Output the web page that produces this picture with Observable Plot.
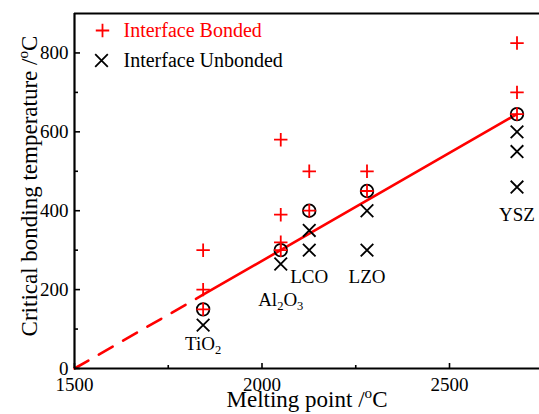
<!DOCTYPE html>
<html>
<head>
<meta charset="utf-8">
<script src="https://cdn.jsdelivr.net/npm/d3@7"></script>
<script src="https://cdn.jsdelivr.net/npm/@observablehq/plot@0.6"></script>
<style>
  html, body { margin: 0; padding: 0; background: #fff; }
  #chart { width: 539px; height: 414px; overflow: hidden; }
  #chart svg, #chart svg text, #chart svg tspan { font-family: 'Liberation Serif', 'Times New Roman', serif !important; }
</style>
</head>
<body>
<div id="chart"></div>
<script>
// ---- data ----
const materials = ["TiO_2", "Al_2O_3", "LCO", "LZO", "YSZ"];
const meltingPoints = [1843, 2050, 2126, 2280, 2680];
const bondedTemps = [[300, 200, 150], [580, 390, 320, 300], [500, 400], [500, 450], [825, 700, 645]];
const unbondedTemps = [[110], [265], [350, 300], [400, 300], [600, 550, 460]];
const criticalTemps = [150, 300, 400, 450, 645];
const labelTemps = [63, 175, 233, 233, 390];
const fitDashedX = [1500, 1843];
const fitDashedY = [0, 187];
const fitSolidX = [1843, 2680];
const fitSolidY = [187, 645];
const xMajorTicks = [1500, 2000, 2500];
const xMinorTicks = [1750, 2250];
const yMajorTicks = [0, 200, 400, 600, 800];
const yMinorTicks = [100, 300, 500, 700];
const legendLabels = ["Interface Bonded", "Interface Unbonded"];
const xTitle = "Melting point /^oC";
const yTitle = "Critical bonding temperature /^oC";

// ---- tables ----
const bonded = meltingPoints.flatMap((m, i) => bondedTemps[i].map(t => ({x: m, y: t})));
const unbonded = meltingPoints.flatMap((m, i) => unbondedTemps[i].map(t => ({x: m, y: t})));
const critical = meltingPoints.map((m, i) => ({x: m, y: criticalTemps[i]}));
const labels = materials.map((s, i) => ({x: meltingPoints[i], y: labelTemps[i], s}));
const dashed = fitDashedX.map((x, i) => ({x, y: fitDashedY[i]}));
const solid = fitSolidX.map((x, i) => ({x, y: fitSolidY[i]}));

const W = 539, H = 414, ML = 74, MT = 13, MB = 46, MR = 0;
const FW = W - ML - MR, FH = H - MT - MB;
const RED = "#ff0000";
const PLUS_R = 4.4, TIMES_R = 5.8, CIRCLE_R = 6.3, SW = 1.8;
const FONT = "'Liberation Serif', 'Times New Roman', serif";

const chart = Plot.plot({
  width: W, height: H,
  marginLeft: ML, marginTop: MT, marginBottom: MB, marginRight: MR,
  style: {fontFamily: FONT, fontSize: "19px", color: "#000", background: "#fff"},
  x: {domain: [1500, 2740], axis: null},
  y: {domain: [0, 900], axis: null},
  marks: [
    // fit line
    Plot.line(dashed, {x: "x", y: "y", stroke: RED, strokeWidth: 2.6, strokeDasharray: "16,12"}),
    Plot.line(solid, {x: "x", y: "y", stroke: RED, strokeWidth: 2.6}),
    // points
    Plot.dot(critical, {x: "x", y: "y", symbol: "circle", r: CIRCLE_R, stroke: "#000", strokeWidth: SW, fill: "none"}),
    Plot.dot(unbonded, {x: "x", y: "y", symbol: "times", r: TIMES_R, stroke: "#000", strokeWidth: SW}),
    Plot.dot(bonded, {x: "x", y: "y", symbol: "plus", r: PLUS_R, stroke: RED, strokeWidth: SW}),
    // material labels
    Plot.text(labels, {x: "x", y: "y", text: "s", fontSize: 19, fill: "#000", fontFamily: FONT}),
    // frame
    Plot.ruleX([1500], {stroke: "#000", strokeWidth: 2.2}),
    Plot.ruleY([0, 900], {stroke: "#000", strokeWidth: 2.2}),
    // inward ticks
    Plot.tickX(xMajorTicks, {x: d => d, insetTop: FH - 5, stroke: "#000", strokeWidth: 1.6}),
    Plot.tickX(xMinorTicks, {x: d => d, insetTop: FH - 3, stroke: "#000", strokeWidth: 1.6}),
    Plot.tickY(yMajorTicks, {y: d => d, insetRight: FW - 6, stroke: "#000", strokeWidth: 1.6}),
    Plot.tickY(yMinorTicks, {y: d => d, insetRight: FW - 4, stroke: "#000", strokeWidth: 1.6}),
    // tick labels
    Plot.axisX({ticks: xMajorTicks, tickFormat: d3.format("d"), tickSize: 0, tickPadding: 9, label: null, fontSize: 19, fontFamily: FONT}),
    Plot.axisY({ticks: yMajorTicks, tickFormat: d3.format("d"), tickSize: 0, tickPadding: 6, label: null, fontSize: 19, fontFamily: FONT}),
    // axis titles
    Plot.text([xTitle], {text: d => d, frameAnchor: "bottom", textAnchor: "middle", dy: 38, fontSize: 23, fontFamily: FONT}),
    Plot.text([yTitle], {text: d => d, frameAnchor: "left", textAnchor: "middle", dx: -45, dy: -5, rotate: -90, fontSize: 23, fontFamily: FONT}),
    // legend
    Plot.dot([legendLabels[0]], {frameAnchor: "top-left", dx: 28, dy: 17, symbol: "plus", r: PLUS_R, stroke: RED, strokeWidth: SW}),
    Plot.text([legendLabels[0]], {text: d => d, frameAnchor: "top-left", dx: 49, dy: 17, textAnchor: "start", lineAnchor: "middle", fill: RED, fontSize: 20, fontFamily: FONT}),
    Plot.dot([legendLabels[1]], {frameAnchor: "top-left", dx: 27, dy: 47, symbol: "times", r: TIMES_R, stroke: "#000", strokeWidth: SW}),
    Plot.text([legendLabels[1]], {text: d => d, frameAnchor: "top-left", dx: 49, dy: 47, textAnchor: "start", lineAnchor: "middle", fill: "#000", fontSize: 20, fontFamily: FONT})
  ]
});

document.getElementById("chart").appendChild(chart);

// sub/superscript markup: _x subscript, ^x superscript
function richify(root) {
  const ns = "http://www.w3.org/2000/svg";
  root.querySelectorAll("text").forEach(t => {
    const s = t.textContent;
    if (!/[_^]/.test(s) || t.children.length) return;
    const fs = parseFloat(getComputedStyle(t).fontSize) || 19;
    t.textContent = "";
    let offset = 0;
    const add = (str, target, small) => {
      const ts = document.createElementNS(ns, "tspan");
      ts.textContent = str;
      const d = target - offset;
      if (d) ts.setAttribute("dy", d.toFixed(2));
      offset = target;
      if (small) ts.setAttribute("font-size", (fs * 0.66).toFixed(2));
      t.appendChild(ts);
    };
    let buf = "";
    for (let i = 0; i < s.length; i++) {
      const c = s[i];
      if ((c === "_" || c === "^") && i + 1 < s.length) {
        if (buf) { add(buf, 0, false); buf = ""; }
        add(s[i + 1], c === "_" ? fs * 0.22 : -fs * 0.38, true);
        i++;
      } else buf += c;
    }
    if (buf) add(buf, 0, false);
  });
}
richify(chart);
</script>
</body>
</html>
